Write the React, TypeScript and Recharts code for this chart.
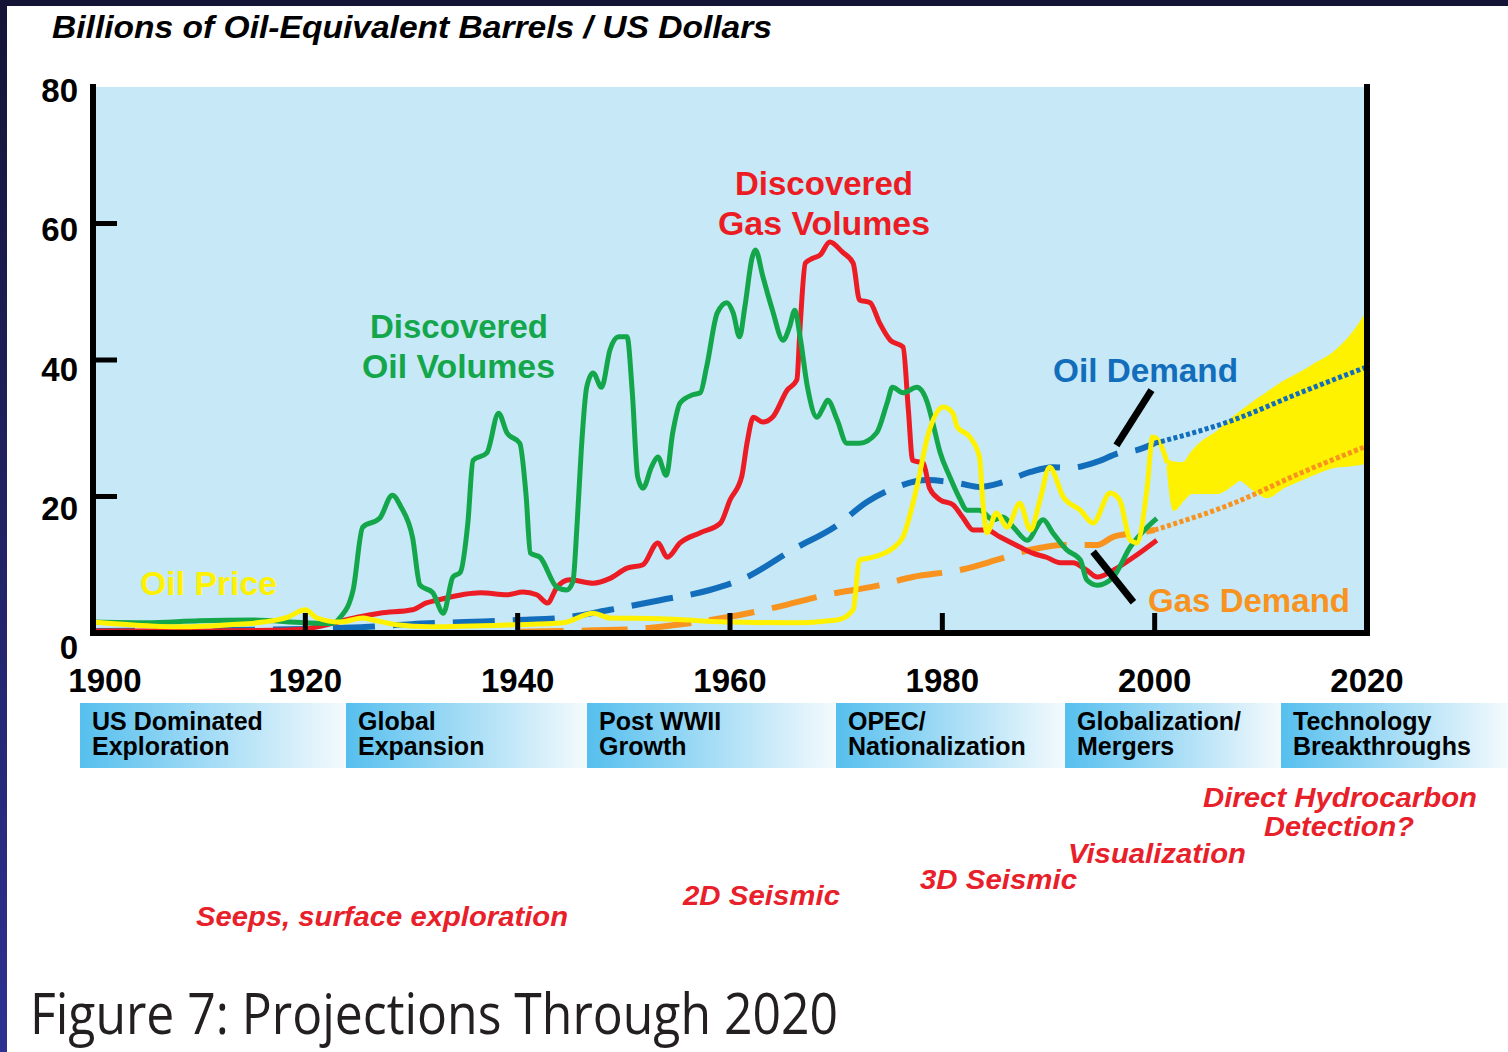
import React from 'react';
import {
  ComposedChart,
  Line,
  Area,
  XAxis,
  YAxis,
  CartesianGrid,
  ReferenceLine,
} from 'recharts';

// ---- data: [year, billions of oil-equivalent barrels / US$] ----

const OIL_DISCOVERED: [number, number][] = [
  [1900, 1.6], [1905, 1.5], [1910, 1.8], [1915, 1.9], [1920, 1.5], [1922.5, 1.4],
  [1923.3, 2.3], [1924.5, 6.3], [1925.4, 15.5], [1927, 16.8], [1928.2, 20.2], [1929, 18.5],
  [1930.1, 14], [1930.8, 7], [1932, 5.9], [1933, 2.9], [1933.9, 8.2], [1934.6, 8.9],
  [1935.3, 16], [1935.8, 25.3], [1937.1, 26.4], [1938.2, 32.2], [1939, 29.3], [1940.2, 27.8],
  [1940.8, 20], [1941.2, 11.7], [1942.1, 11.1], [1943.7, 6.7], [1944.6, 6.3], [1945.2, 7.5],
  [1945.6, 16], [1946, 27], [1946.5, 36], [1947.1, 38.1], [1947.9, 36], [1948.7, 41.5],
  [1949.5, 43.4], [1950.3, 43.4], [1950.8, 35.2], [1951.3, 22.9], [1951.8, 21.2], [1952.6, 24.3],
  [1953.2, 25.8], [1954, 23.1], [1954.6, 29.3], [1955.3, 33.7], [1956.5, 34.9], [1957.2, 35.2],
  [1957.8, 39], [1958.8, 46.9], [1959.7, 48.4], [1960.3, 46.9], [1960.9, 43.4], [1961.4, 47.8],
  [1962.1, 55.1], [1962.4, 56.1], [1963.1, 52.2], [1964, 47.3], [1965, 42.9], [1965.6, 44.8],
  [1966.1, 47.3], [1966.6, 43.4], [1967.3, 36], [1968.2, 31.6], [1968.8, 33.1], [1969.2, 34.1],
  [1970.1, 31.2], [1971, 27.8], [1972.2, 27.8], [1973.8, 29.3], [1974.8, 33.7], [1975.3, 36],
  [1976.3, 35.2], [1977.6, 36], [1978.6, 33.7], [1979.1, 30.8], [1979.8, 26.4], [1980.7, 22.9],
  [1981.7, 19.5], [1982.3, 18], [1983.5, 18], [1984.8, 16.6], [1985.7, 17], [1986.7, 15.5],
  [1988, 13.6], [1989.5, 16.6], [1990.4, 14.7], [1991.7, 12.2], [1993, 10.7], [1993.6, 7.8],
  [1994.6, 7], [1996.1, 8.2], [1997.7, 12.6], [1999.3, 15.5], [2000.2, 16.8],
];

const GAS_DISCOVERED: [number, number][] = [
  [1900, 0.3], [1910, 0.3], [1917, 0.4], [1920, 0.6], [1922, 1.2], [1924.9, 2.3],
  [1927, 2.9], [1930.1, 3.4], [1931.4, 4.4], [1932.4, 4.8], [1936.5, 5.9], [1939, 5.6],
  [1940.5, 6], [1941.8, 5.6], [1942.8, 4.4], [1943.7, 6.7], [1944.9, 7.8], [1947.1, 7.3],
  [1948.7, 8], [1950.3, 9.5], [1951.8, 10], [1953.2, 13.2], [1954.1, 11.1], [1955.3, 13.2],
  [1957.2, 14.7], [1959.1, 16.1], [1960, 19.5], [1961.1, 22.9], [1961.6, 27.8], [1962.2, 31.6],
  [1963.1, 30.9], [1964, 31.6], [1965.4, 35.6], [1966.3, 37.1], [1966.6, 44.8], [1967.1, 54.2],
  [1967.8, 54.9], [1968.5, 55.4], [1969.4, 57.3], [1970.6, 55.8], [1971.6, 54.2], [1972.2, 48.8],
  [1973.2, 48.4], [1974.1, 45.4], [1975.1, 42.9], [1976.3, 41.9], [1976.8, 32.7], [1977.2, 25.3],
  [1978.2, 24.9], [1978.8, 21.2], [1979.8, 19.5], [1981, 18.8], [1981.9, 17], [1982.9, 15.1],
  [1984.2, 15.1], [1985.4, 14.1], [1987.3, 12.6], [1988.5, 11.7], [1989.8, 11.1], [1991.1, 10.3],
  [1992.3, 10.3], [1993.6, 9.2], [1994.6, 8.2], [1996.1, 9.2], [1998, 11.1], [2000.2, 13.6],
];

const OIL_DEMAND: [number, number][] = [
  [1900, 0.3], [1910, 0.4], [1920, 0.6], [1926, 0.9], [1930, 1.3], [1935, 1.6],
  [1940, 1.9], [1944, 2.2], [1948.7, 3.4], [1953.4, 4.8], [1958.1, 6.3], [1961.6, 8.2],
  [1965.9, 12.2], [1970.1, 15.8], [1972.9, 19.2], [1975.4, 21.2], [1978.6, 22.4], [1981.7, 21.9],
  [1983.5, 21.4], [1985.7, 22.1], [1988.3, 23.6], [1990.4, 24.3], [1992, 24.2], [1994.6, 25.1],
  [1996.7, 26.4], [1998.3, 26.8], [2000, 27.8],
];

const OIL_DEMAND_PROJECTION: [number, number][] = [
  [2000, 27.8], [2007.4, 31.2], [2013.7, 35.2], [2020, 39],
];

const GAS_DEMAND: [number, number][] = [
  [1940, 0.2], [1944, 0.3], [1950.3, 0.5], [1955, 1.2], [1959.7, 2.3], [1964.4, 3.8],
  [1969.1, 5.6], [1973.8, 6.9], [1977.2, 8.2], [1981.9, 9.3], [1985.1, 10.7], [1988.3, 12.2],
  [1991.4, 12.9], [1994.6, 12.9], [1996.1, 14.1], [1998.6, 14.7], [2000, 15.1],
];

const GAS_DEMAND_PROJECTION: [number, number][] = [
  [2000, 15.1], [2007.4, 19], [2013.7, 23.4], [2020, 27.4],
];

const OIL_PRICE: [number, number][] = [
  [1900, 1.6], [1903.5, 1.2], [1908.2, 0.9], [1912.9, 1.2], [1916, 1.6], [1918.3, 2.3],
  [1920, 3.4], [1921.1, 2.2], [1923.3, 1.6], [1925.4, 2.2], [1926.4, 1.9], [1928.6, 1.2],
  [1931.7, 0.9], [1939.6, 1.2], [1944.3, 1.5], [1947.1, 2.9], [1948.7, 2.2], [1953.4, 2.1],
  [1959.7, 1.6], [1965.9, 1.5], [1970.1, 1.9], [1971.6, 3.4], [1972.2, 10.7], [1973.2, 11],
  [1975.4, 12.5], [1976.3, 14.1], [1977.6, 21.4], [1978.6, 28.7], [1980.1, 33.1], [1981, 32.2],
  [1981.4, 30.2], [1982.6, 28.7], [1983.5, 25.8], [1983.8, 19.5], [1984.2, 14.7], [1985.1, 17.6],
  [1986.1, 15.5], [1987.3, 19], [1988.3, 15.1], [1989.2, 19.5], [1990.1, 24.3], [1991.4, 19.9],
  [1993, 18], [1994.2, 16.1], [1995.8, 20.5], [1996.7, 19.5], [1997.7, 13.6], [1998.3, 13.2],
  [1999.3, 21.4], [1999.8, 28.7], [2000.5, 27.8], [2001.2, 24.9],
];

// projected oil price range: [year, low, high]
const OIL_PRICE_RANGE: [number, number, number][] = [
  [2001.2, 24.5, 25.2], [2001.8, 18, 25], [2002.7, 19.5, 24.9], [2003.5, 20.5, 26.5],
  [2004.3, 20.5, 27.8], [2005.9, 20.5, 29.5], [2007.4, 21.8, 31.6], [2008, 22.4, 32.3],
  [2009.3, 21, 33.8], [2010.6, 19.9, 35.2], [2012, 21.2, 36.7], [2013.7, 22.4, 38.1],
  [2015.2, 23.4, 39.5], [2016.8, 24.3, 41], [2018.7, 24.6, 44], [2020, 25, 47],
];

const X_TICKS = [1900, 1920, 1940, 1960, 1980, 2000, 2020];
const Y_TICKS = [0, 20, 40, 60, 80];

// callout pointers, in data units
const OIL_DEMAND_POINTER = [{ x: 1999.7, y: 35.6 }, { x: 1996.4, y: 27.5 }];
const GAS_DEMAND_POINTER = [{ x: 1994.2, y: 11.9 }, { x: 1998, y: 4.5 }];

const ERAS = [
  ['US Dominated', 'Exploration'],
  ['Global', 'Expansion'],
  ['Post WWII', 'Growth'],
  ['OPEC/', 'Nationalization'],
  ['Globalization/', 'Mergers'],
  ['Technology', 'Breakthroughs'],
];

// ---- styling ----

const FONT = '"Liberation Sans", Arial, Helvetica, sans-serif';
const GREEN = '#14a64a';
const RED = '#ec1c24';
const BLUE = '#126dbb';
const ORANGE = '#f7931e';
const YELLOW = '#fff200';
const ANNOT_RED = '#e8202a';

const toPoints = (rows: [number, number][]) => rows.map(([year, value]) => ({ year, value }));
const rangePoints = OIL_PRICE_RANGE.map(([year, low, high]) => ({ year, range: [low, high] }));

const YearTick = (props: any) => {
  const { x, y, payload } = props;
  const v = payload.value;
  const inner = v > 1900 && v < 2020;
  return (
    <g>
      {inner && <line x1={x} x2={x} y1={y} y2={y - 20} stroke="#000" strokeWidth={5} />}
      <text
        x={x + (v === 1900 ? 12 : 0)}
        y={y + 59}
        textAnchor="middle"
        fontFamily={FONT}
        fontWeight={700}
        fontSize={33}
        fill="#000"
      >
        {v}
      </text>
    </g>
  );
};

const ValueTick = (props: any) => {
  const { x, y, payload, side } = props;
  const v = payload.value;
  const inner = v > 0 && v < 80;
  const dir = side === 'left' ? 1 : -1;
  const dy = 15 + (80 - v) * 0.14;
  return (
    <g>
      {inner && (
        <line x1={x - 3 * dir} x2={x + 24 * dir} y1={y} y2={y} stroke="#000" strokeWidth={5} />
      )}
      <text
        x={side === 'left' ? x - 15 : x + 18}
        y={y + dy}
        textAnchor={side === 'left' ? 'end' : 'start'}
        fontFamily={FONT}
        fontWeight={700}
        fontSize={33}
        fill="#000"
      >
        {v}
      </text>
    </g>
  );
};

const FitText = ({ x, y, w, size, color, italic = false, weight = 700, family = FONT, children }: any) => (
  <text
    x={x}
    y={y}
    textLength={w}
    lengthAdjust="spacingAndGlyphs"
    fontSize={size}
    fontWeight={weight}
    fontStyle={italic ? 'italic' : 'normal'}
    fontFamily={family}
    fill={color}
  >
    {children}
  </text>
);

const frameLine = { stroke: '#000', strokeWidth: 6, strokeLinecap: 'square' as const };

export default function App() {
  const eraX = [80, 346, 587, 836, 1065, 1281, 1508];

  return (
    <div
      style={{
        position: 'absolute',
        left: 0,
        top: 0,
        width: 1508,
        height: 1052,
        background: '#fff',
        overflow: 'hidden',
      }}
    >
      <div style={{ position: 'absolute', left: 0, top: 0 }}>
        <ComposedChart
          width={1508}
          height={1052}
          margin={{ top: 87, right: 81, bottom: 359, left: 33 }}
        >
          <CartesianGrid fill="#c6e8f7" fillOpacity={1} horizontal={false} vertical={false} />
          <XAxis
            type="number"
            dataKey="year"
            domain={[1900, 2020]}
            ticks={X_TICKS}
            interval={0}
            height={60}
            allowDataOverflow
            axisLine={frameLine}
            tickLine={false}
            tickSize={0}
            tickMargin={0}
            tick={(p: any) => <YearTick {...p} />}
          />
          <XAxis
            xAxisId="top"
            orientation="top"
            type="number"
            domain={[1900, 2020]}
            height={0}
            axisLine={frameLine}
            tick={false}
            tickLine={false}
          />
          <YAxis
            yAxisId="left"
            orientation="left"
            domain={[0, 80]}
            ticks={Y_TICKS}
            interval={0}
            width={60}
            allowDataOverflow
            axisLine={frameLine}
            tickLine={false}
            tickSize={0}
            tickMargin={0}
            tick={(p: any) => <ValueTick {...p} side="left" />}
          />
          <YAxis
            yAxisId="right"
            orientation="right"
            domain={[0, 80]}
            ticks={Y_TICKS}
            interval={0}
            width={60}
            axisLine={frameLine}
            tickLine={false}
            tickSize={0}
            tickMargin={0}
            tick={(p: any) => <ValueTick {...p} side="right" />}
          />

          <Area
            yAxisId="left"
            data={rangePoints}
            dataKey="range"
            type="monotone"
            stroke={YELLOW}
            strokeWidth={2}
            fill={YELLOW}
            fillOpacity={1}
            isAnimationActive={false}
          />
          <Line
            yAxisId="left"
            data={toPoints(GAS_DEMAND)}
            dataKey="value"
            type="monotone"
            stroke={ORANGE}
            strokeWidth={6}
            strokeDasharray="46 18"
            dot={false}
            activeDot={false}
            isAnimationActive={false}
          />
          <Line
            yAxisId="left"
            data={toPoints(OIL_DEMAND)}
            dataKey="value"
            type="monotone"
            stroke={BLUE}
            strokeWidth={6}
            strokeDasharray="42 18"
            dot={false}
            activeDot={false}
            isAnimationActive={false}
          />
          <Line
            yAxisId="left"
            data={toPoints(GAS_DISCOVERED)}
            dataKey="value"
            type="monotone"
            stroke={RED}
            strokeWidth={5}
            dot={false}
            activeDot={false}
            isAnimationActive={false}
          />
          <Line
            yAxisId="left"
            data={toPoints(OIL_DISCOVERED)}
            dataKey="value"
            type="monotone"
            stroke={GREEN}
            strokeWidth={5}
            dot={false}
            activeDot={false}
            isAnimationActive={false}
          />
          <Line
            yAxisId="left"
            data={toPoints(OIL_PRICE)}
            dataKey="value"
            type="monotone"
            stroke={YELLOW}
            strokeWidth={5}
            dot={false}
            activeDot={false}
            isAnimationActive={false}
          />
          <Line
            yAxisId="left"
            data={toPoints(OIL_DEMAND_PROJECTION)}
            dataKey="value"
            type="monotone"
            stroke={BLUE}
            strokeWidth={5}
            strokeDasharray="4 2.5"
            dot={false}
            activeDot={false}
            isAnimationActive={false}
          />
          <Line
            yAxisId="left"
            data={toPoints(GAS_DEMAND_PROJECTION)}
            dataKey="value"
            type="monotone"
            stroke={ORANGE}
            strokeWidth={5}
            strokeDasharray="4 2.5"
            dot={false}
            activeDot={false}
            isAnimationActive={false}
          />
          <ReferenceLine yAxisId="left" segment={OIL_DEMAND_POINTER} stroke="#000" strokeWidth={7} />
          <ReferenceLine yAxisId="left" segment={GAS_DEMAND_POINTER} stroke="#000" strokeWidth={7} />
        </ComposedChart>
      </div>

      <svg
        width={1508}
        height={1052}
        style={{ position: 'absolute', left: 0, top: 0, pointerEvents: 'none' }}
      >
        <defs>
          <linearGradient id="era" x1="0" y1="0" x2="1" y2="0">
            <stop offset="0%" stopColor="#56bfee" />
            <stop offset="100%" stopColor="#f4fafd" />
          </linearGradient>
          <linearGradient id="navy" x1="0" y1="0" x2="0" y2="1">
            <stop offset="0%" stopColor="#141436" />
            <stop offset="100%" stopColor="#2d3192" />
          </linearGradient>
        </defs>

        {/* slide frame */}
        <rect x={0} y={0} width={1508} height={6} fill="#141436" />
        <rect x={0} y={0} width={7} height={1052} fill="url(#navy)" />

        {/* title */}
        <FitText x={52} y={38} w={720} size={31} color="#000" italic>
          Billions of Oil-Equivalent Barrels / US Dollars
        </FitText>

        {/* series labels */}
        <FitText x={370} y={338} w={178} size={34} color={GREEN}>Discovered</FitText>
        <FitText x={362} y={378} w={193} size={34} color={GREEN}>Oil Volumes</FitText>
        <FitText x={735} y={195} w={178} size={34} color={RED}>Discovered</FitText>
        <FitText x={718} y={235} w={212} size={34} color={RED}>Gas Volumes</FitText>
        <FitText x={1053} y={382} w={185} size={34} color={BLUE}>Oil Demand</FitText>
        <FitText x={1148} y={612} w={202} size={34} color={ORANGE}>Gas Demand</FitText>
        <FitText x={140} y={595} w={137} size={34} color={YELLOW}>Oil Price</FitText>

        {/* era boxes */}
        {ERAS.map(([a, b], i) => (
          <g key={a}>
            <rect x={eraX[i]} y={703} width={eraX[i + 1] - eraX[i]} height={65} fill="url(#era)" />
            <text x={eraX[i] + 12} y={730} fontFamily={FONT} fontWeight={700} fontSize={25} fill="#000">{a}</text>
            <text x={eraX[i] + 12} y={755} fontFamily={FONT} fontWeight={700} fontSize={25} fill="#000">{b}</text>
          </g>
        ))}

        {/* technology annotations */}
        <FitText x={196} y={926} w={372} size={28} color={ANNOT_RED} italic>Seeps, surface exploration</FitText>
        <FitText x={683} y={905} w={157} size={28} color={ANNOT_RED} italic>2D Seismic</FitText>
        <FitText x={920} y={889} w={157} size={28} color={ANNOT_RED} italic>3D Seismic</FitText>
        <FitText x={1068} y={863} w={178} size={28} color={ANNOT_RED} italic>Visualization</FitText>
        <FitText x={1203} y={807} w={274} size={28} color={ANNOT_RED} italic>Direct Hydrocarbon</FitText>
        <FitText x={1264} y={836} w={150} size={28} color={ANNOT_RED} italic>Detection?</FitText>

        {/* caption */}
        <FitText x={30} y={1034} w={808} size={56} color="#231f20" weight={400} family='"Open Sans", "Noto Sans", sans-serif'>
          Figure 7: Projections Through 2020
        </FitText>
      </svg>
    </div>
  );
}
